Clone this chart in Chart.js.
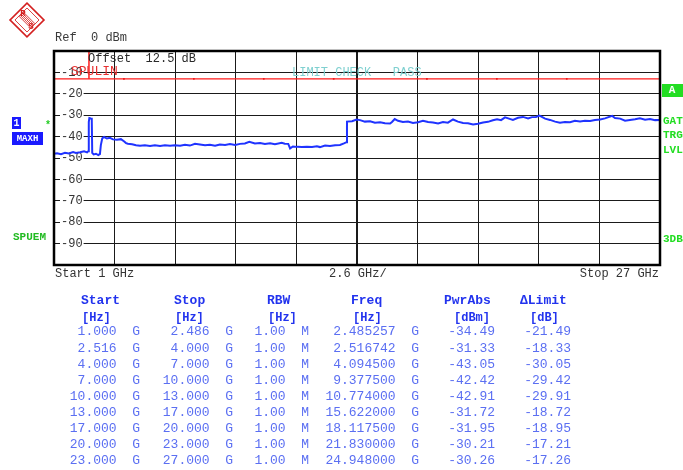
<!DOCTYPE html>
<html><head><meta charset="utf-8">
<script src="https://cdn.jsdelivr.net/npm/chart.js@4/dist/chart.umd.min.js"></script>
<style>html,body{margin:0;padding:0;background:#fff;overflow:hidden}</style>
</head><body><canvas id="c" width="683" height="470"></canvas>
<script>
// ---- data ----
const traceFreqGHz = [1.00,1.13,1.30,1.47,1.64,1.82,1.94,2.12,2.29,2.42,2.47,2.485,2.50,2.517,2.58,2.62,2.64,2.70,2.80,2.90,2.97,3.01,3.07,3.15,3.27,3.40,3.53,3.70,3.87,4.00,4.09,4.17,4.35,4.52,4.69,4.90,5.12,5.33,5.55,5.76,5.98,6.19,6.41,6.62,6.83,7.05,7.26,7.48,7.69,7.91,8.12,8.34,8.55,8.77,8.98,9.19,9.38,9.62,9.84,10.05,10.27,10.48,10.77,10.90,11.05,11.13,11.25,11.43,11.64,11.85,12.07,12.28,12.41,12.63,12.84,13.06,13.27,13.44,13.55,13.57,13.79,13.98,14.13,14.34,14.56,14.77,14.99,15.20,15.42,15.50,15.62,15.76,15.97,16.19,16.40,16.62,16.83,17.05,17.26,17.48,17.69,17.90,18.12,18.33,18.55,18.76,18.98,19.19,19.41,19.62,19.83,20.01,20.18,20.35,20.52,20.69,20.91,21.12,21.34,21.51,21.68,21.83,22.07,22.28,22.50,22.71,22.92,23.14,23.35,23.57,23.78,24.00,24.21,24.43,24.64,24.95,25.07,25.29,25.50,25.71,25.93,26.14,26.36,26.57,26.79,27.00];
const traceLevelDbm = [-48.0,-47.8,-48.2,-47.6,-47.9,-47.2,-47.6,-47.3,-46.9,-47.4,-46.8,-34.5,-33.2,-31.3,-31.5,-31.6,-47.6,-48.3,-48.0,-48.6,-48.2,-44.0,-40.8,-40.2,-40.9,-40.6,-41.3,-41.5,-41.2,-42.2,-43.05,-43.3,-43.6,-44.0,-44.3,-44.1,-44.4,-44.0,-44.4,-44.1,-44.3,-44.0,-44.3,-43.8,-44.2,-43.4,-43.7,-44.0,-43.8,-44.3,-43.7,-43.9,-43.5,-43.9,-43.4,-43.2,-42.4,-43.2,-43.0,-43.5,-43.1,-43.6,-42.9,-43.3,-43.4,-45.5,-44.6,-44.8,-44.9,-44.7,-44.9,-44.5,-44.9,-44.2,-44.4,-44.0,-43.9,-43.2,-42.6,-33.0,-32.8,-32.0,-32.3,-33.0,-32.8,-33.5,-33.3,-33.8,-33.9,-33.2,-31.8,-32.6,-33.2,-33.0,-33.6,-33.3,-32.6,-33.2,-33.4,-33.9,-33.2,-33.5,-32.0,-33.0,-33.6,-33.8,-34.3,-34.0,-33.4,-33.1,-32.4,-31.9,-32.3,-31.0,-31.6,-32.2,-31.2,-30.8,-31.5,-30.9,-30.8,-30.2,-31.6,-32.2,-33.0,-33.5,-33.2,-33.3,-32.6,-32.9,-32.6,-32.7,-32.2,-32.0,-31.5,-30.3,-31.3,-31.6,-32.6,-32.2,-31.9,-31.4,-32.1,-31.8,-32.3,-32.2];
const limitLevelDbm = -13;
const limitSegmentEdgesGHz = [4, 7, 10, 13, 17, 20, 23];
const markerLineGHz = 2.5;
const xGridGHz = [1, 3.6, 6.2, 8.8, 11.4, 14, 16.6, 19.2, 21.8, 24.4, 27];
const yTickDbm = [-10, -20, -30, -40, -50, -60, -70, -80, -90];

const tableStart = ["1.000", "2.516", "4.000", "7.000", "10.000", "13.000", "17.000", "20.000", "23.000"];
const tableStop  = ["2.486", "4.000", "7.000", "10.000", "13.000", "17.000", "20.000", "23.000", "27.000"];
const tableRbw   = ["1.00", "1.00", "1.00", "1.00", "1.00", "1.00", "1.00", "1.00", "1.00"];
const tableFreq  = ["2.485257", "2.516742", "4.094500", "9.377500", "10.774000", "15.622000", "18.117500", "21.830000", "24.948000"];
const tablePwr   = ["-34.49", "-31.33", "-43.05", "-42.42", "-42.91", "-31.72", "-31.95", "-30.21", "-30.26"];
const tableLimit = ["-21.49", "-18.33", "-30.05", "-29.42", "-29.91", "-18.72", "-18.95", "-17.21", "-17.26"];

const MONO = '"Liberation Mono", "DejaVu Sans Mono", monospace';

const overlay = {
  id: 'overlay',
  afterDraw(chart) {
    const ctx = chart.ctx, ca = chart.chartArea;
    ctx.save();
    // frame
    ctx.strokeStyle = '#000'; ctx.lineWidth = 2.5;
    ctx.strokeRect(ca.left, ca.top, ca.right - ca.left, ca.bottom - ca.top);

    ctx.textBaseline = 'middle';
    // header texts
    ctx.font = '12px ' + MONO; ctx.fillStyle = '#3a3a3a'; ctx.textAlign = 'left';
    ctx.fillText('Ref  0 dBm', 55, 38);
    ctx.fillStyle = '#2a2a2a';
    ctx.fillText('Offset  12.5 dB', 88, 59);
    ctx.font = '13px ' + MONO; ctx.fillStyle = '#e83030';
    ctx.fillText('SPULIN', 71, 72);
    ctx.font = '12px ' + MONO; ctx.fillStyle = '#7fd0d0';
    ctx.fillText('LIMIT CHECK   PASS', 292, 73);

    // bottom axis labels
    ctx.font = '12px ' + MONO; ctx.fillStyle = '#333';
    ctx.fillText('Start 1 GHz', 55, 274);
    ctx.fillText('2.6 GHz/', 329, 274);
    ctx.textAlign = 'right';
    ctx.fillText('Stop 27 GHz', 659, 274);

    // left annotations
    ctx.textAlign = 'center';
    ctx.fillStyle = '#1a1aff'; ctx.fillRect(12, 117, 9, 12);
    ctx.fillRect(12, 132, 31, 13);
    ctx.fillStyle = '#fff'; ctx.font = 'bold 10px ' + MONO;
    ctx.fillText('1', 16.5, 123.5);
    ctx.font = 'bold 9px ' + MONO;
    ctx.fillText('MAXH', 27.5, 139);
    ctx.fillStyle = '#22cc22'; ctx.font = 'bold 10px ' + MONO;
    ctx.fillText('*', 48, 125);
    ctx.textAlign = 'left';
    ctx.font = 'bold 11px ' + MONO; ctx.fillStyle = '#22bb22';
    ctx.fillText('SPUEM', 13, 237);

    // right annotations
    ctx.fillStyle = '#22dd22'; ctx.fillRect(662, 84, 21, 13);
    ctx.fillStyle = '#fff'; ctx.font = 'bold 11px ' + MONO; ctx.textAlign = 'center';
    ctx.fillText('A', 672, 90.5);
    ctx.textAlign = 'left'; ctx.fillStyle = '#22dd22'; ctx.font = 'bold 11px ' + MONO;
    ctx.fillText('GAT', 663, 121);
    ctx.fillText('TRG', 663, 135);
    ctx.fillText('LVL', 663, 150);
    ctx.fillText('3DB', 663, 239);

    // logo
    ctx.save();
    ctx.translate(27, 20); ctx.rotate(Math.PI / 4);
    ctx.strokeStyle = '#d42020'; ctx.lineWidth = 1.6;
    ctx.strokeRect(-12, -12, 24, 24);
    ctx.lineWidth = 0.8;
    ctx.strokeRect(-8.5, -8.5, 17, 17);
    ctx.beginPath();
    for (let k = -2; k <= 2; k++) { ctx.moveTo(-8.5, k * 1.5); ctx.lineTo(8.5, k * 1.5); }
    ctx.stroke();
    ctx.restore();
    ctx.fillStyle = '#d42020'; ctx.font = 'bold 9px ' + MONO; ctx.textAlign = 'center';
    ctx.fillText('R', 23, 14); ctx.fillText('S', 31, 27);

    // table
    const hdr = '#2233ee', dat = '#5b6ff2';
    ctx.font = 'bold 13px ' + MONO; ctx.fillStyle = hdr; ctx.textAlign = 'left';
    ctx.fillText('Start', 81, 301);
    ctx.fillText('Stop', 174, 301);
    ctx.fillText('RBW', 267, 301);
    ctx.fillText('Freq', 351, 301);
    ctx.fillText('PwrAbs', 444, 301);
    ctx.fillText('\u0394Limit', 520, 301);
    ctx.font = 'bold 12px ' + MONO;
    ctx.fillText('[Hz]', 82, 318);
    ctx.fillText('[Hz]', 175, 318);
    ctx.fillText('[Hz]', 268, 318);
    ctx.fillText('[Hz]', 353, 318);
    ctx.fillText('[dBm]', 454, 318);
    ctx.fillText('[dB]', 530, 318);
    ctx.font = '13px ' + MONO; ctx.fillStyle = dat; ctx.textAlign = 'right';
    for (let i = 0; i < tableStart.length; i++) {
      const y = 332 + i * 16.1;
      ctx.fillText(tableStart[i] + '  G', 140, y);
      ctx.fillText(tableStop[i] + '  G', 233, y);
      ctx.fillText(tableRbw[i] + '  M', 309, y);
      ctx.fillText(tableFreq[i] + '  G', 419, y);
      ctx.fillText(tablePwr[i], 495, y);
      ctx.fillText(tableLimit[i], 571, y);
    }
    ctx.restore();
  }
};

new Chart(document.getElementById('c').getContext('2d'), {
  type: 'line',
  data: {
    datasets: [
      { label: 'Trace 1 MAXH', data: traceFreqGHz.map((f, i) => ({ x: f, y: traceLevelDbm[i] })),
        borderColor: '#1f33ff', borderWidth: 2, pointRadius: 0, tension: 0, order: 0 },
      { label: 'Limit', data: [{ x: 1, y: limitLevelDbm }, { x: 27, y: limitLevelDbm }],
        borderColor: '#ff1a1a', borderWidth: 1.2, pointRadius: 0, order: 2 },
      { label: 'Limit marks', data: limitSegmentEdgesGHz.map(f => ({ x: f, y: limitLevelDbm })), showLine: false,
        pointStyle: 'rect', pointRadius: 1.2, backgroundColor: '#cc1010', borderColor: '#cc1010', borderWidth: 0, order: 2 },
      { label: 'Marker line', data: [{ x: markerLineGHz, y: 0 }, { x: markerLineGHz, y: limitLevelDbm }],
        borderColor: '#ff1a1a', borderWidth: 1.5, pointRadius: 0, order: 1 }
    ]
  },
  options: {
    responsive: false, animation: false,
    layout: { padding: { left: 54, top: 51, right: 23, bottom: 205 } },
    plugins: { legend: { display: false }, tooltip: { enabled: false }, title: { display: false } },
    scales: {
      x: { type: 'linear', min: 1, max: 27,
        afterBuildTicks: s => { s.ticks = xGridGHz.map(v => ({ value: v })); },
        afterFit: s => { s.height = 0; },
        ticks: { display: false },
        grid: { drawTicks: false, color: '#1a1a1a', lineWidth: c => (c.index === 5 ? 2 : 1) },
        border: { display: false } },
      y: { type: 'linear', min: -100, max: 0,
        afterBuildTicks: s => { s.ticks = yTickDbm.map(v => ({ value: v })); },
        afterFit: s => { s.width = 0; },
        ticks: { mirror: true, padding: 7, color: '#333', font: { family: MONO, size: 12 },
          showLabelBackdrop: true, backdropColor: '#fff', backdropPadding: { left: 1, right: 1, top: 0, bottom: 0 },
          callback: v => String(v) },
        grid: { drawTicks: false, color: '#1a1a1a' },
        border: { display: false } }
    }
  },
  plugins: [overlay]
});
</script></body></html>
